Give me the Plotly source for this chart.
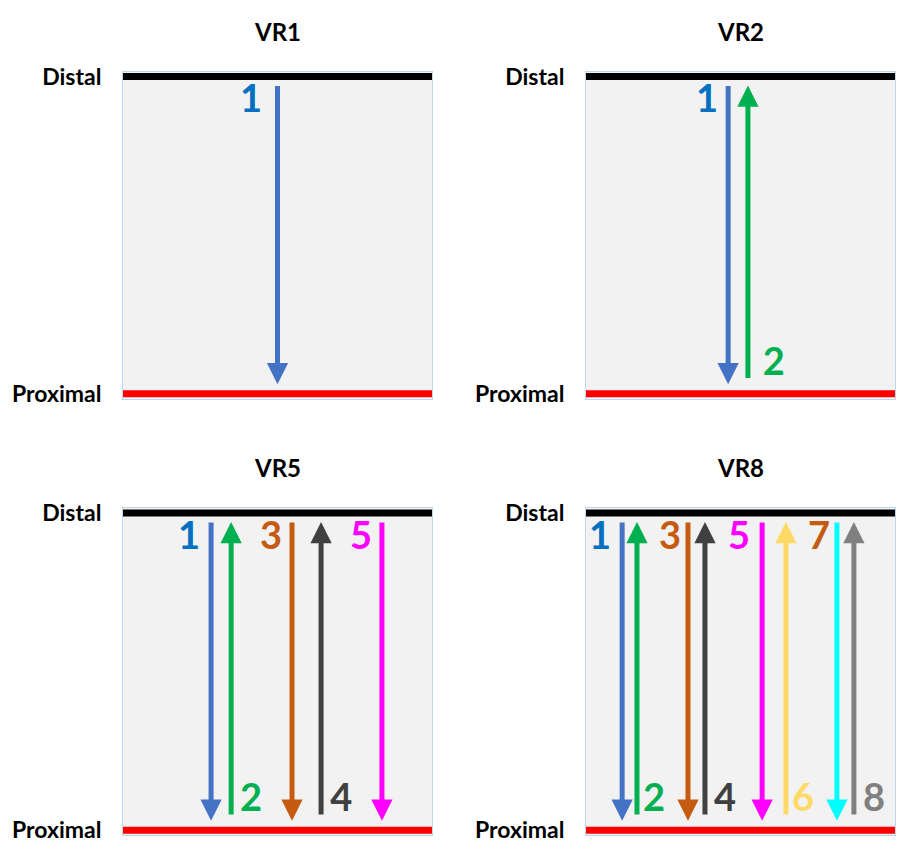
import plotly.graph_objects as go

# ---- data ----
panels = ["VR1", "VR2", "VR5", "VR8"]
level_labels = ["Proximal", "Distal"]
level_values = [0, 1]

arrow_ids = [1, 2, 3, 4, 5, 6, 7, 8]
arrow_colors = ["#4472C4", "#00B050", "#C55A11", "#404040", "#FF00FF", "#FFD966", "#00FFFF", "#808080"]
label_colors = ["#0070C0", "#00B050", "#C55A11", "#404040", "#FF00FF", "#FFD966", "#C55A11", "#808080"]
arrow_dirs = ["down", "up", "down", "up", "down", "up", "down", "up"]

vr1_arrow_x = [5.0]
vr2_arrow_x = [4.6, 5.24]
vr5_arrow_x = [2.85, 3.5, 5.47, 6.41, 8.38]
vr8_arrow_x = [1.17, 1.65, 3.3, 3.85, 5.7, 6.47, 8.12, 8.67]

vr1_label_x = [4.14]
vr2_label_x = [3.92, 6.08]
vr5_label_x = [2.14, 4.14, 4.79, 7.06, 7.7]
vr8_label_x = [0.45, 2.2, 2.72, 4.5, 4.95, 7.02, 7.54, 9.32]

down_from, down_to = 0.975, 0.03
up_from, up_to = 0.045, 0.972
top_label_y = 0.918
bottom_label_y = 0.09

panel_arrow_x = [vr1_arrow_x, vr2_arrow_x, vr5_arrow_x, vr8_arrow_x]
panel_label_x = [vr1_label_x, vr2_label_x, vr5_label_x, vr8_label_x]

# ---- layout geometry ----
W, H = 898, 845
x_doms = [(123, 432), (586, 895), (123, 432), (586, 895)]
y_doms = [(63, 397), (63, 397), (509, 843), (509, 843)]
title_y = [22, 22, 467, 467]

fig = go.Figure()
annotations = []
shapes = []
FONT = "Lato"

for i, name in enumerate(panels):
    n = i + 1
    xs = "" if n == 1 else str(n)
    xref, yref = "x" + xs, "y" + xs
    ax_x = panel_arrow_x[i]
    lab_x = panel_label_x[i]
    k = len(ax_x)
    ids = arrow_ids[:k]

    # number labels
    lab_y = [top_label_y if arrow_dirs[j] == "down" else bottom_label_y for j in range(k)]
    fig.add_trace(go.Scatter(
        x=lab_x, y=lab_y, mode="text",
        text=["<b>%d</b>" % a for a in ids],
        textfont=dict(family=FONT, size=38, color=label_colors[:k]),
        textposition="middle center", cliponaxis=False,
        showlegend=False, hoverinfo="skip",
        xaxis=xref, yaxis=yref,
    ))

    # arrows
    for j in range(k):
        if arrow_dirs[j] == "down":
            y0, y1 = down_from, down_to
        else:
            y0, y1 = up_from, up_to
        annotations.append(dict(
            x=ax_x[j], y=y1, ax=ax_x[j], ay=y0,
            xref=xref, yref=yref, axref=xref, ayref=yref,
            text="", showarrow=True, arrowhead=2, arrowsize=0.85,
            arrowwidth=5, arrowcolor=arrow_colors[j], standoff=0,
        ))

    # distal / proximal lines
    shapes.append(dict(type="line", xref=xref, yref=yref, x0=-0.1, x1=10.1, y0=1, y1=1,
                       line=dict(color="black", width=7)))
    shapes.append(dict(type="line", xref=xref, yref=yref, x0=-0.1, x1=10.1, y0=0, y1=0,
                       line=dict(color="#FF0000", width=7)))

    xd = x_doms[i]
    yd = y_doms[i]
    fig.layout["xaxis" + xs] = dict(
        domain=[xd[0] / W, xd[1] / W], range=[0, 10], anchor=yref,
        showticklabels=False, showgrid=False, zeroline=False,
        showline=True, mirror=True, linecolor="#BDD7EE", linewidth=1, fixedrange=True,
    )
    fig.layout["yaxis" + xs] = dict(
        domain=[1 - yd[1] / H, 1 - yd[0] / H], range=[-0.0154, 1.0154], anchor=xref,
        tickvals=level_values, ticktext=["<b>%s</b>" % t for t in level_labels],
        tickfont=dict(family=FONT, size=23, color="black"),
        ticks="", ticklabelstandoff=16,
        showgrid=False, zeroline=False,
        showline=True, mirror=True, linecolor="#BDD7EE", linewidth=1, fixedrange=True,
    )

    annotations.append(dict(
        x=(xd[0] + xd[1]) / 2 / W, y=1 - title_y[i] / H, xref="paper", yref="paper",
        text="<b>%s</b>" % name, showarrow=False,
        font=dict(family=FONT, size=24, color="black"),
        xanchor="center", yanchor="middle",
    ))

fig.update_layout(
    width=W, height=H,
    margin=dict(l=0, r=0, t=0, b=0),
    paper_bgcolor="white", plot_bgcolor="#F2F2F2",
    annotations=annotations, shapes=shapes,
    showlegend=False,
)

fig.write_html(
    "out.html",
    config={"displayModeBar": False},
    post_script="document.body.style.margin='0';document.body.style.overflow='hidden';",
)
